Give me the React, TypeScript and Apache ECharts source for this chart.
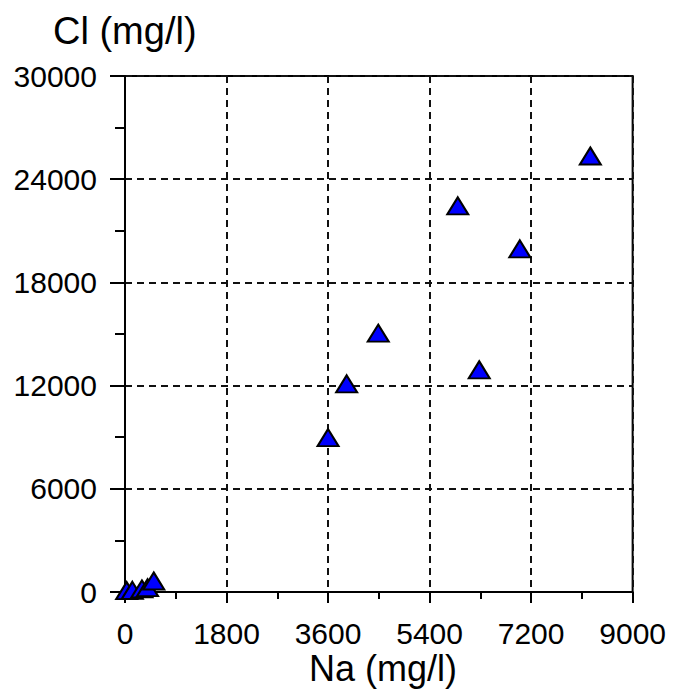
import React, { useEffect, useRef } from "react";
import * as echarts from "echarts";

const naValues = [30, 130, 300, 400, 510, 8250, 5900, 7000, 4490, 6280, 3930, 3600];
const clValues = [80, 100, 180, 250, 640, 25350, 22450, 19950, 15050, 12920, 12100, 8980];
const xTicks = [0, 1800, 3600, 5400, 7200, 9000];
const yTicks = [0, 6000, 12000, 18000, 24000, 30000];
const xTitle = "Na (mg/l)";
const yTitle = "Cl (mg/l)";

export default function App() {
  const ref = useRef<HTMLDivElement>(null);
  useEffect(() => {
    if (!ref.current) return;
    const chart = echarts.init(ref.current, null, { renderer: "svg" });
    const font = "'Liberation Sans', Arial, sans-serif";
    const dataPts = naValues.map((v, i) => [v, clValues[i]]);
    chart.setOption({
      animation: false,
      backgroundColor: "#ffffff",
      grid: {
        left: 117,
        right: 30,
        top: 68,
        bottom: 98,
        show: true,
        borderColor: "#000",
        borderWidth: 2,
        backgroundColor: "transparent",
      },
      graphic: [
        {
          type: "text",
          x: 45,
          y: 23,
          style: { text: yTitle, font: `38px ${font}`, fill: "#000", align: "left", verticalAlign: "middle" },
        },
        {
          type: "text",
          x: 375,
          y: 660,
          style: { text: xTitle, font: `36px ${font}`, fill: "#000", align: "center", verticalAlign: "middle" },
        },
      ],
      xAxis: {
        type: "value",
        min: xTicks[0],
        max: xTicks[xTicks.length - 1],
        interval: xTicks[1] - xTicks[0],
        axisLine: { show: true, lineStyle: { color: "#000", width: 2 } },
        axisTick: { show: true, inside: false, length: 11, lineStyle: { color: "#000", width: 2 } },
        minorTick: { show: true, splitNumber: 2, length: 7, lineStyle: { color: "#000", width: 2 } },
        axisLabel: { fontSize: 30, fontFamily: font, color: "#000", margin: 26, formatter: (v: number) => String(v) },
        splitLine: { show: true, lineStyle: { color: "#111", width: 2, type: [7, 5] } },
      },
      yAxis: {
        type: "value",
        min: yTicks[0],
        max: yTicks[yTicks.length - 1],
        interval: yTicks[1] - yTicks[0],
        axisLine: { show: true, lineStyle: { color: "#000", width: 2 } },
        axisTick: { show: true, inside: false, length: 15, lineStyle: { color: "#000", width: 2 } },
        minorTick: { show: true, splitNumber: 2, length: 10, lineStyle: { color: "#000", width: 2 } },
        axisLabel: { fontSize: 30, fontFamily: font, color: "#000", margin: 28, formatter: (v: number) => String(v) },
        splitLine: { show: true, lineStyle: { color: "#111", width: 2, type: [7, 5] } },
      },
      series: [
        {
          type: "scatter",
          data: dataPts,
          symbol: "triangle",
          symbolSize: [21, 17],
          itemStyle: { color: "#0000ff", borderColor: "#000", borderWidth: 2, opacity: 1 },
        },
      ],
    });
    return () => chart.dispose();
  }, []);
  return <div ref={ref} style={{ width: 661, height: 682 }} />;
}
